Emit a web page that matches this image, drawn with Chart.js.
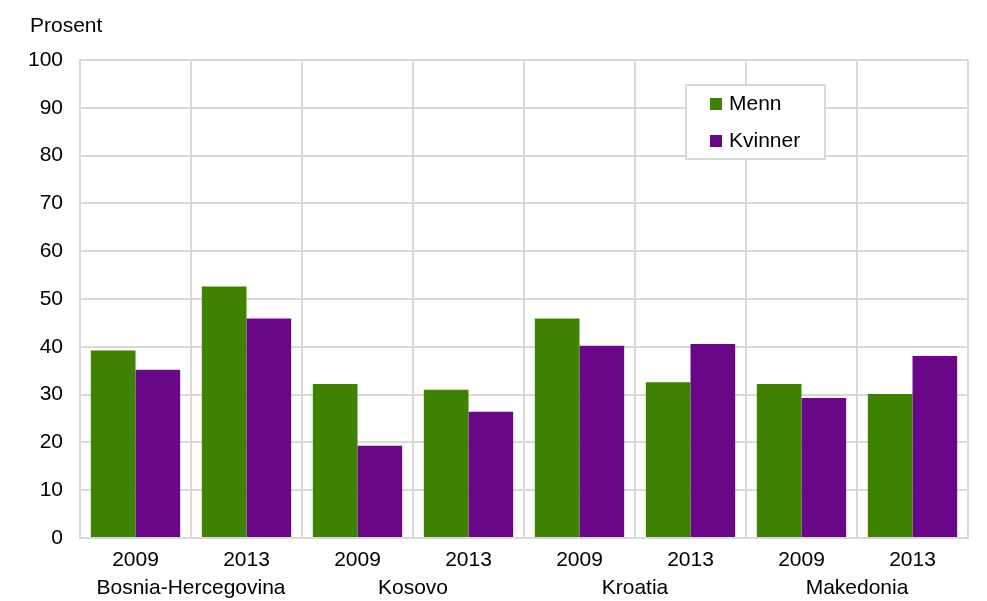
<!DOCTYPE html>
<html>
<head>
<meta charset="utf-8">
<script src="https://cdn.jsdelivr.net/npm/chart.js@4/dist/chart.umd.min.js"></script>
<style>
  html, body { margin: 0; padding: 0; background: #fff; }
  #wrap { width: 987px; height: 601px; position: relative; }
</style>
</head>
<body>
<div id="wrap"><canvas id="chart"></canvas></div>
<script>
const years = ["2009", "2013", "2009", "2013", "2009", "2013", "2009", "2013"];
const countries = ["Bosnia-Hercegovina", "Kosovo", "Kroatia", "Makedonia"];
const menn = [39.2, 52.6, 32.2, 31.0, 45.9, 32.6, 32.2, 30.1];
const kvinner = [35.2, 45.9, 19.3, 26.4, 40.2, 40.6, 29.3, 38.1];
const yTicks = [0, 10, 20, 30, 40, 50, 60, 70, 80, 90, 100];

const fontFamily = "'Liberation Sans', Arial, sans-serif";
const gridColor = "#d9d9d9";

// country names under each pair of years, plus "Prosent" label and the boxed legend
const extraText = {
  id: "extraText",
  afterDraw(chart) {
    const ctx = chart.ctx;
    const x = chart.scales.x;
    const area = chart.chartArea;
    ctx.save();
    ctx.fillStyle = "#000";
    ctx.font = "21px " + fontFamily;
    ctx.textBaseline = "middle";

    ctx.textAlign = "center";
    countries.forEach(function (name, i) {
      const cx = (x.getPixelForValue(i * 2) + x.getPixelForValue(i * 2 + 1)) / 2;
      ctx.fillText(name, cx, area.bottom + 50);
    });

    ctx.textAlign = "left";
    ctx.fillText("Prosent", 30, 26);

    // legend
    const lx = area.left + 606, ly = area.top + 25, lw = 139, lh = 74;
    ctx.fillStyle = "#fff";
    ctx.fillRect(lx, ly, lw, lh);
    ctx.strokeStyle = gridColor;
    ctx.lineWidth = 2;
    ctx.strokeRect(lx, ly, lw, lh);
    chart.data.datasets.forEach(function (ds, i) {
      const rowY = ly + 19 + i * 37;
      ctx.fillStyle = ds.backgroundColor;
      ctx.fillRect(lx + 24, rowY - 6, 12, 12);
      ctx.fillStyle = "#000";
      ctx.fillText(ds.label, lx + 43, rowY);
    });
    ctx.restore();
  }
};

new Chart(document.getElementById("chart").getContext("2d"), {
  type: "bar",
  data: {
    labels: years,
    datasets: [
      { label: "Menn", data: menn, backgroundColor: "#3e8200" },
      { label: "Kvinner", data: kvinner, backgroundColor: "#690788" }
    ]
  },
  options: {
    responsive: true,
    maintainAspectRatio: false,
    animation: false,
    layout: { padding: { top: 60, right: 19, left: 0, bottom: 0 } },
    datasets: { bar: { categoryPercentage: 0.805, barPercentage: 1.0 } },
    plugins: {
      legend: { display: false },
      title: { display: false },
      tooltip: { enabled: false }
    },
    scales: {
      x: {
        grid: { color: gridColor, lineWidth: 2, drawTicks: false, offset: true },
        border: { color: gridColor, width: 2 },
        ticks: { color: "#000", font: { size: 21, family: fontFamily }, padding: 10, maxRotation: 0 },
        afterFit(scale) { scale.height = 63; }
      },
      y: {
        min: 0,
        max: 100,
        afterBuildTicks(scale) { scale.ticks = yTicks.map(v => ({ value: v })); },
        grid: { color: gridColor, lineWidth: 2, drawTicks: false },
        border: { color: gridColor, width: 2 },
        ticks: { color: "#000", font: { size: 21, family: fontFamily }, padding: 17 },
        afterFit(scale) { scale.width = 80; }
      }
    }
  },
  plugins: [extraText]
});
</script>
</body>
</html>
